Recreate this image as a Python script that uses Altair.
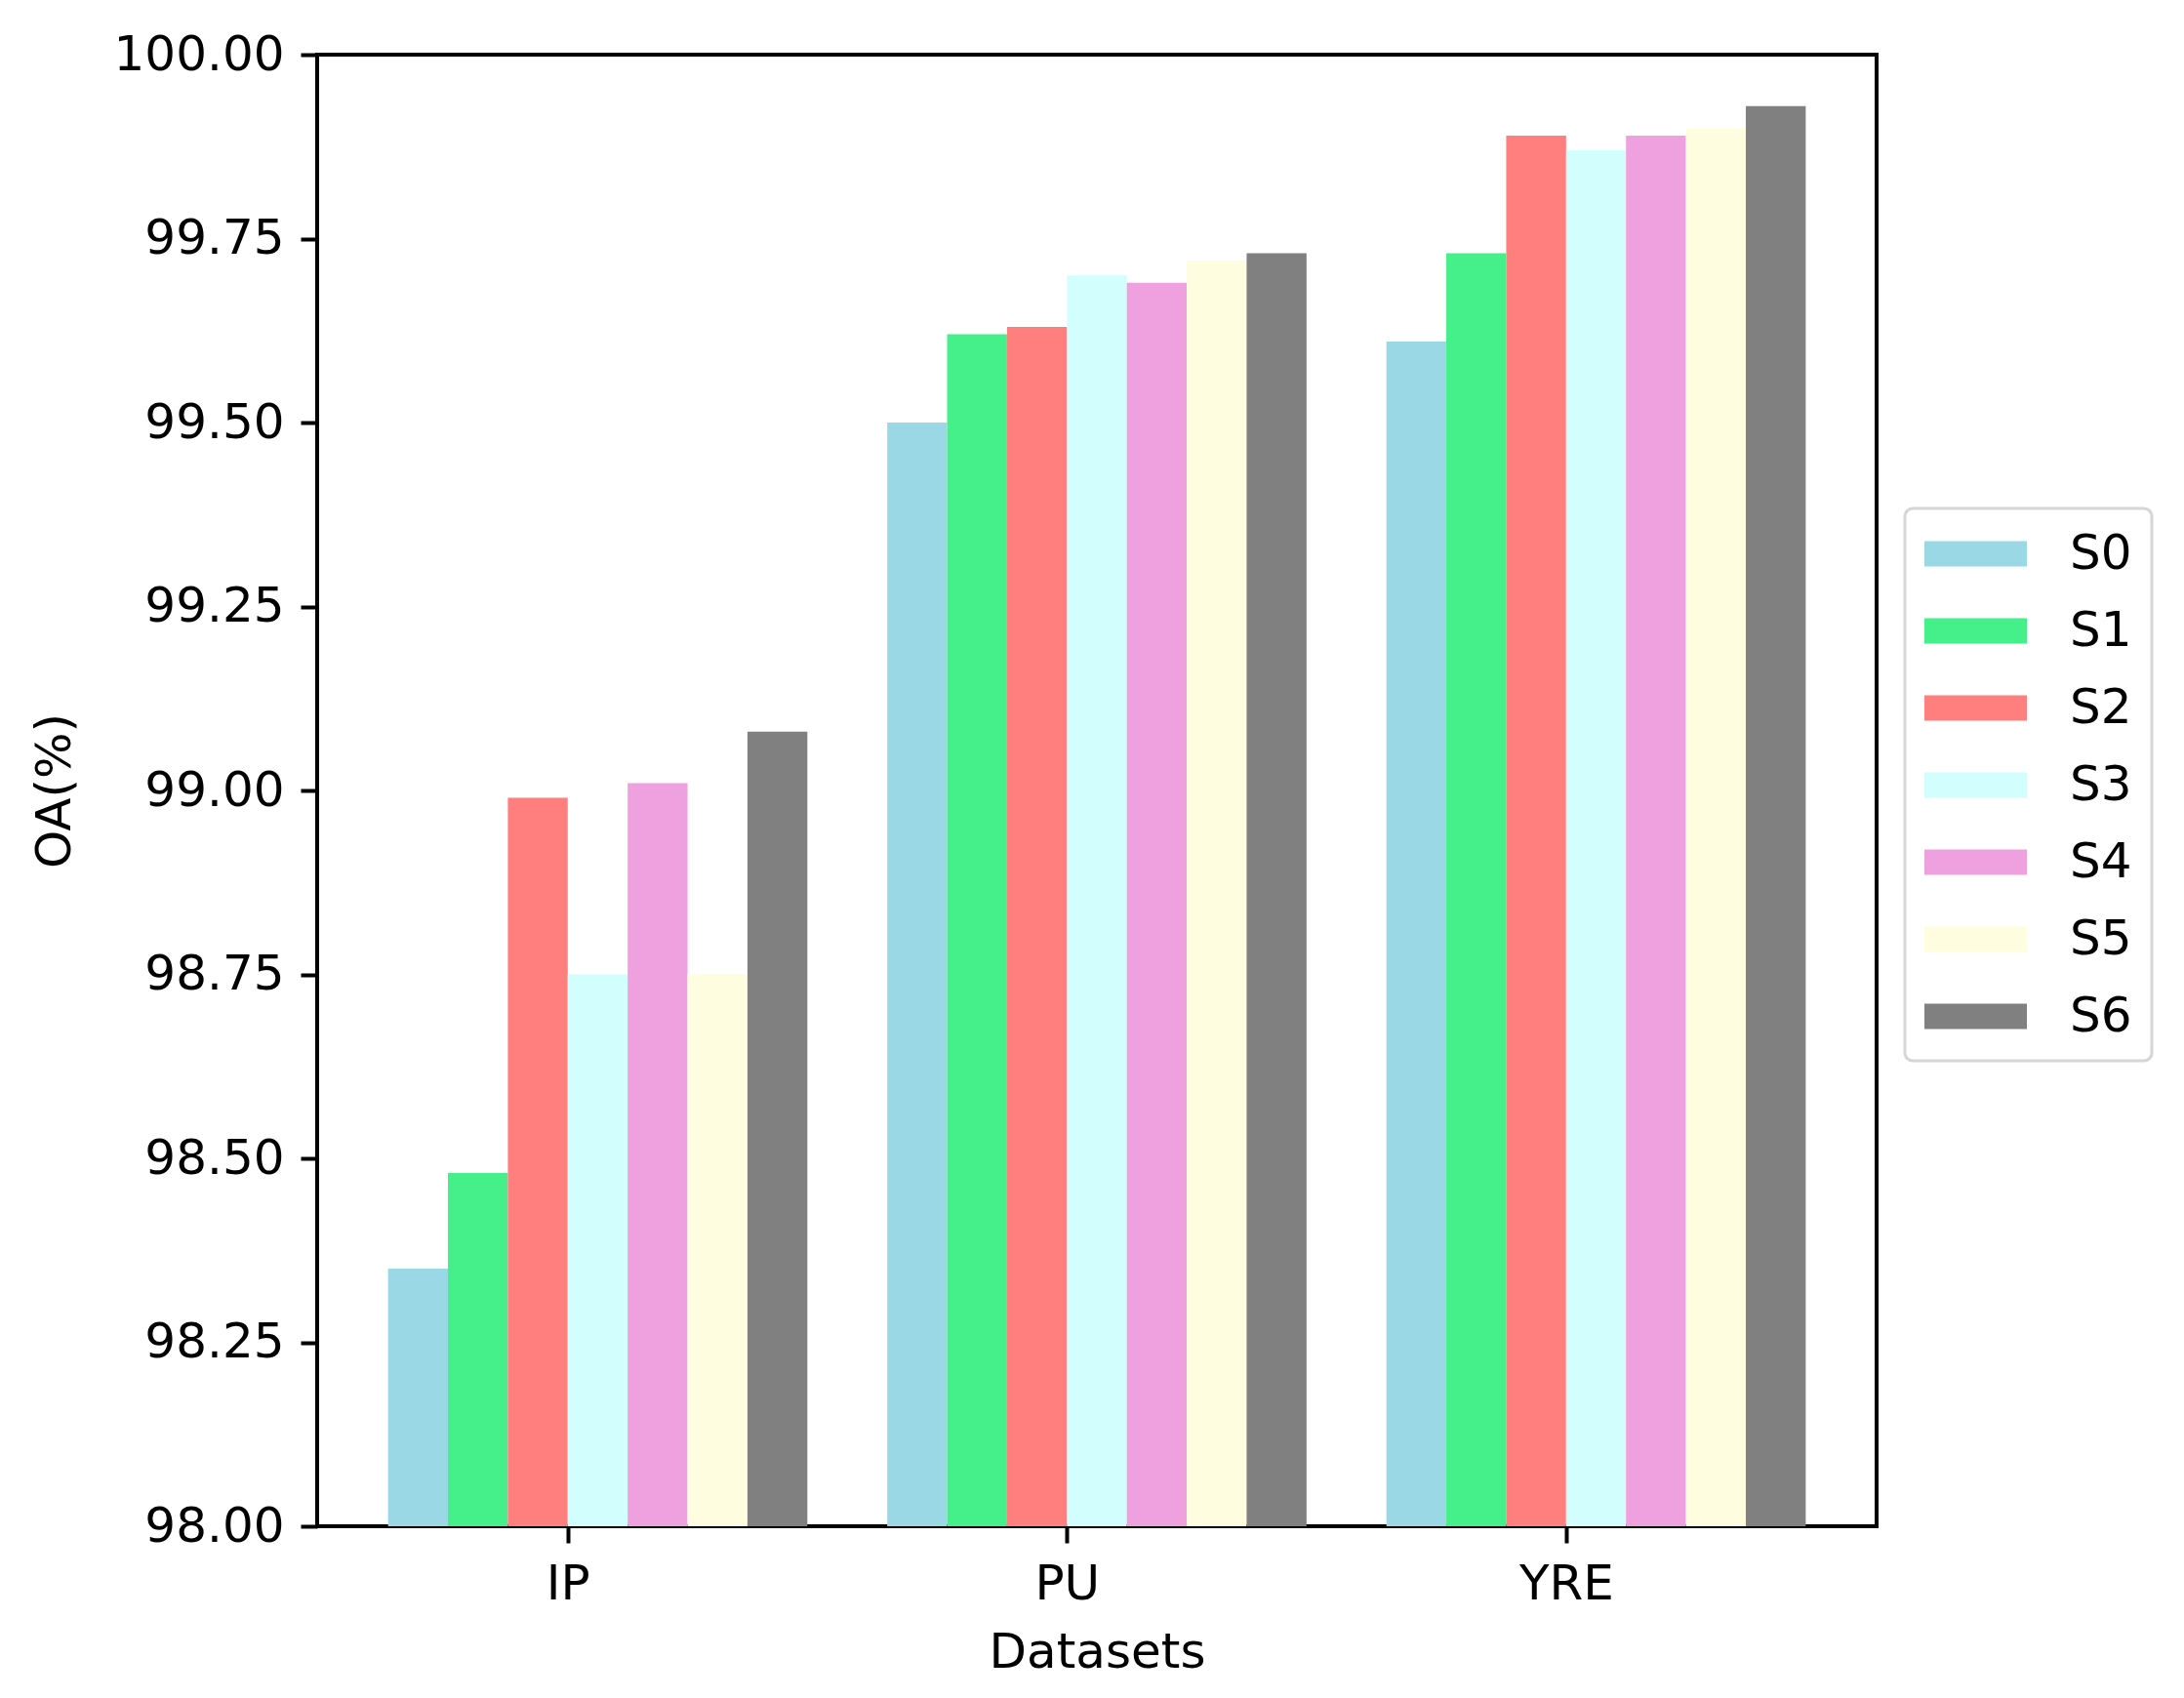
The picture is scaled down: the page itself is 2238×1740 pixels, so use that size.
import altair as alt
import pandas as pd

datasets = ["IP", "PU", "YRE"]
series = ["S0", "S1", "S2", "S3", "S4", "S5", "S6"]
colors = ["#9AD8E6", "#45EF8A", "#FF7F7F", "#D2FEFE", "#EFA0DF", "#FEFDDF", "#808080"]

ip_vals = [98.35, 98.48, 98.99, 98.75, 99.01, 98.75, 99.08]
pu_vals = [99.50, 99.62, 99.63, 99.70, 99.69, 99.72, 99.73]
yre_vals = [99.61, 99.73, 99.89, 99.87, 99.89, 99.90, 99.93]

rows = []
for gi, vals in enumerate([ip_vals, pu_vals, yre_vals]):
    for si, v in enumerate(vals):
        rows.append({"dataset": datasets[gi], "gi": gi, "series": series[si], "si": si, "oa": v})
df = pd.DataFrame(rows)

bar_w = 0.12
font = "DejaVu Sans"

# wide flat legend swatch: 4 units wide, 1 unit tall
swatch = "M-2,-0.5H2V0.5H-2Z"

bars = alt.Chart(df).transform_calculate(
    x0=f"datum.gi + (datum.si - 3) * {bar_w}",
    x1=f"datum.gi + (datum.si - 2) * {bar_w}",
).mark_bar(clip=True, cornerRadius=0).encode(
    x=alt.X("x0:Q",
            scale=alt.Scale(domain=[-0.502, 2.622], nice=False, zero=False),
            axis=alt.Axis(values=[0, 1, 2],
                          labelExpr="['IP', 'PU', 'YRE'][datum.value]",
                          title="Datasets", labelOverlap=False, labelFlush=False)),
    x2="x1:Q",
    y=alt.Y("oa:Q",
            scale=alt.Scale(domain=[98, 100], nice=False, zero=False),
            axis=alt.Axis(values=[98 + 0.25 * k for k in range(9)], format=".2f",
                          title="OA(%)", labelFlush=False)),
    y2=alt.datum(98),
    color=alt.Color("series:N",
                    scale=alt.Scale(domain=series, range=colors),
                    legend=alt.Legend(title=None, orient="none", legendX=1627, legendY=465,
                                      symbolType=swatch, symbolSize=2756,
                                      symbolOffset=26, symbolStrokeWidth=0,
                                      labelFontSize=50, labelFont=font,
                                      labelOffset=70, rowPadding=27, padding=20,
                                      strokeColor="#d6d6d6", cornerRadius=8,
                                      fillColor="white")),
)

chart = bars.properties(
    width=1598, height=1508,
    padding={"left": 23, "top": 23, "right": 0, "bottom": 10},
).configure_view(
    stroke="black", strokeWidth=4
).configure_axis(
    grid=False, domain=False, tickColor="black", tickWidth=4, tickSize=17,
    labelFont=font, labelFontSize=50, labelColor="black", labelPadding=17,
    titleFont=font, titleFontSize=50, titleFontWeight="normal", titleColor="black",
).configure_axisY(
    titlePadding=44
).configure_axisX(
    titlePadding=20
).configure_legend(
    strokeWidth=3
)

chart.save("out.html", embed_options={"renderer": "svg", "actions": False})
